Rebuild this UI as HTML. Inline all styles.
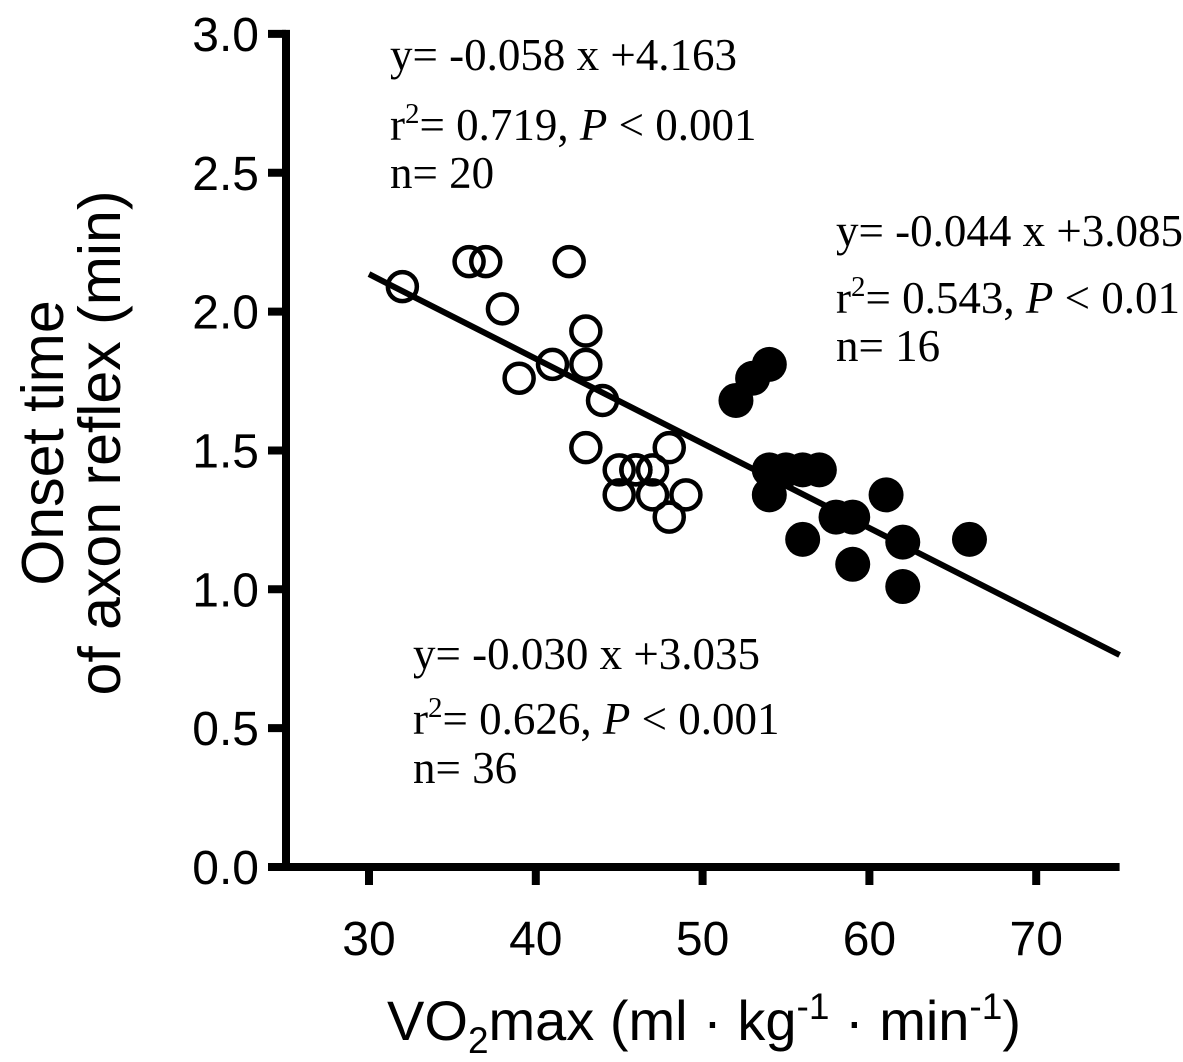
<!DOCTYPE html>
<html><head><meta charset="utf-8"><style>
body{margin:0;background:#fff}
svg text{font-family:"Liberation Sans",Arial,sans-serif}
.ser{font-family:"Liberation Serif","Times New Roman",serif;font-size:45px}
</style></head><body>
<svg id="c" width="1183" height="1057" xmlns="http://www.w3.org/2000/svg"></svg>
<script>
const xTicks=[30,40,50,60,70];
const yTicks=[0.0,0.5,1.0,1.5,2.0,2.5,3.0];
const openX=[32,36,37,38,39,41,42,43,43,44,43,45,46,47,48,45,47,49,48,46];
const openY=[2.09,2.18,2.18,2.01,1.76,1.81,2.18,1.93,1.81,1.68,1.51,1.43,1.43,1.43,1.51,1.34,1.34,1.34,1.26,1.43];
const fillX=[52,53,54,54,55,56,57,54,58,59,56,59,61,62,62,66];
const fillY=[1.68,1.76,1.81,1.43,1.43,1.43,1.43,1.34,1.26,1.26,1.18,1.09,1.34,1.17,1.01,1.18];
const fitSlope=-0.030, fitIntercept=3.035;
const fitRange=[30,75];
const svg=document.getElementById('c');
const NS='http://www.w3.org/2000/svg';
const X=v=>369+(v-30)*16.68;
const Y=v=>867-v*277.7;
function mk(t,a){const e=document.createElementNS(NS,t);for(const k in a)e.setAttribute(k,a[k]);svg.appendChild(e);return e;}
let e;
e=mk('line',{x1:286,y1:Y(3)-4,x2:286,y2:871,stroke:'#000','stroke-width':8});


e=mk('line',{x1:282,y1:867,x2:X(75),y2:867,stroke:'#000','stroke-width':8});


xTicks.forEach(t=>{
 e=mk('line',{x1:X(t),y1:867,x2:X(t),y2:885,stroke:'#000','stroke-width':8});
 
 
 e=mk('text',{x:X(t),y:955,'text-anchor':'middle','font-size':48});e.textContent=t;
 
 
});
yTicks.forEach(t=>{
 e=mk('line',{x1:268,y1:Y(t),x2:286,y2:Y(t),stroke:'#000','stroke-width':8});
 
 
 e=mk('text',{x:259,y:Y(t)+17,'text-anchor':'end','font-size':48});e.textContent=t.toFixed(1);
 
 
});
e=mk('line',{x1:X(fitRange[0]),y1:Y(fitSlope*fitRange[0]+fitIntercept),x2:X(fitRange[1]),y2:Y(fitSlope*fitRange[1]+fitIntercept)+6,stroke:'#000','stroke-width':6});


openX.forEach((x,i)=>{
 e=mk('circle',{cx:X(x),cy:Y(openY[i]),r:14.5,fill:'none',stroke:'#000','stroke-width':4.5});
 
 
});
fillX.forEach((x,i)=>{
 e=mk('circle',{cx:X(x),cy:Y(fillY[i]),r:17.5,fill:'#000'});
 
 
});
</script>
<svg width="1183" height="1057" style="position:absolute;left:0;top:0" xmlns="http://www.w3.org/2000/svg">
<g>
<text class="ser" x="390" y="70">y= -0.058 x +4.163</text>
<text class="ser" x="390" y="140">r<tspan dy="-17" font-size="29">2</tspan><tspan dy="17">= 0.719, <tspan font-style="italic">P</tspan> &lt; 0.001</tspan></text>
<text class="ser" x="390" y="188">n= 20</text></g>
<g>
<text class="ser" x="836" y="246">y= -0.044 x +3.085</text>
<text class="ser" x="836" y="313">r<tspan dy="-17" font-size="29">2</tspan><tspan dy="17">= 0.543, <tspan font-style="italic">P</tspan> &lt; 0.01</tspan></text>
<text class="ser" x="836" y="361">n= 16</text></g>
<g>
<text class="ser" x="413" y="669">y= -0.030 x +3.035</text>
<text class="ser" x="413" y="734">r<tspan dy="-17" font-size="29">2</tspan><tspan dy="17">= 0.626, <tspan font-style="italic">P</tspan> &lt; 0.001</tspan></text>
<text class="ser" x="413" y="783">n= 36</text></g>
<text x="704" y="1040" text-anchor="middle" font-size="56" font-family="Liberation Sans,sans-serif">VO<tspan dy="13" font-size="37">2</tspan><tspan dy="-13">max (ml · kg</tspan><tspan dy="-21" font-size="37">-1</tspan><tspan dy="21"> · min</tspan><tspan dy="-21" font-size="37">-1</tspan><tspan dy="21">)</tspan></text>
<g transform="translate(0,443) rotate(-90)" font-family="Liberation Sans,sans-serif" font-size="59">
<text x="0" y="63" text-anchor="middle">Onset time</text>
<text x="0" y="120" text-anchor="middle">of axon reflex (min)</text></g>
</svg>
</body></html>
